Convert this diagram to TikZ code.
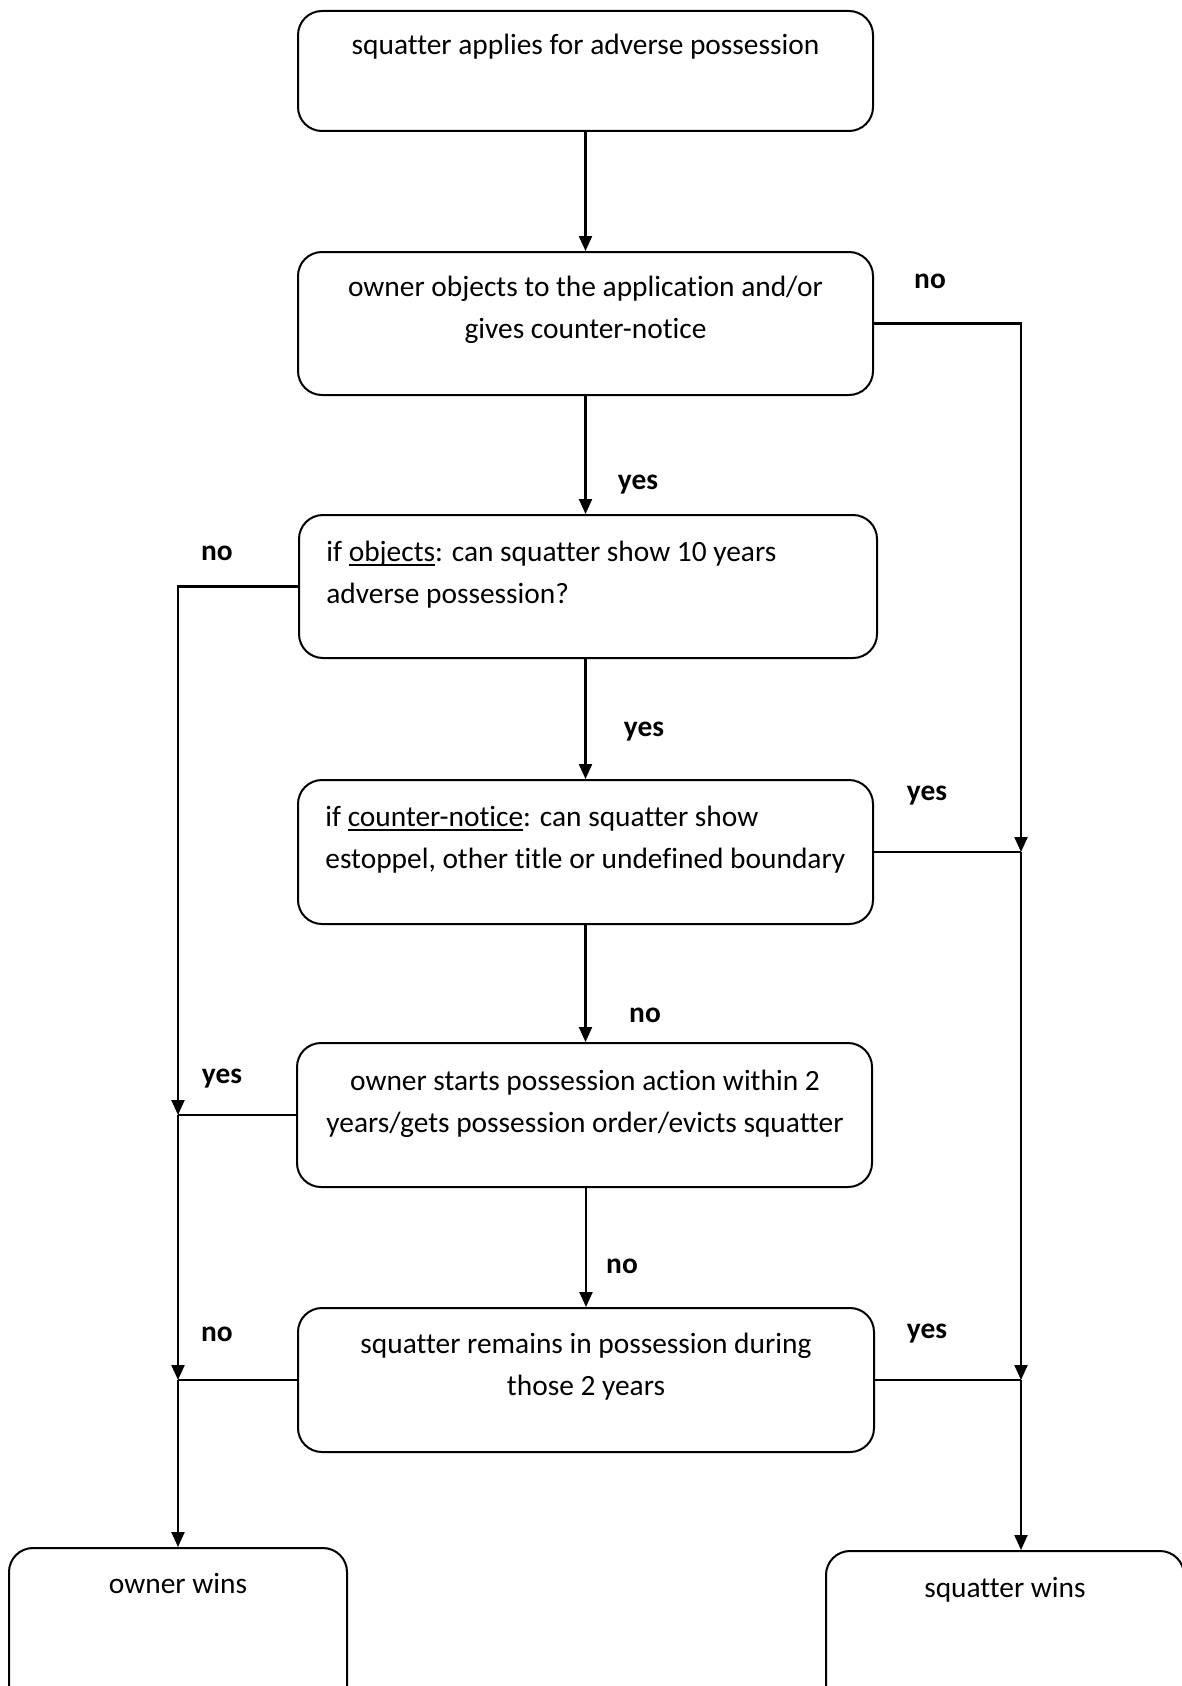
\documentclass[tikz,border=0pt]{standalone}
\usepackage{fontspec}
\setmainfont{Carlito}[Ligatures=NoCommon]
\usetikzlibrary{arrows.meta}
% underline at a fixed depth below the baseline
\newcommand\undl[1]{\setbox0\hbox{#1}\rlap{\rule[-2.3pt]{\wd0}{0.75pt}}\box0}
\begin{document}
\begin{tikzpicture}[x=0.5pt,y=-0.5pt,
  box/.style={draw, line width=1pt, rounded corners=12pt, inner sep=0pt},
  txt/.style={font=\fontsize{14.7}{21}\selectfont, inner sep=0pt, align=center, anchor=base},
  ltxt/.style={font=\fontsize{14.7}{21}\selectfont, inner sep=0pt, align=left, anchor=base west},
  lbl/.style={font=\fontsize{14.7}{21}\selectfont\bfseries, inner sep=0pt},
  conn/.style={line width=1.1pt},
  arr/.style={line width=1.1pt, -{Triangle[length=7.5pt,width=6.5pt]}}
]
\clip (0,0) rectangle (1182,1686);

% process boxes
\node[box, minimum width=287.5pt, minimum height=60pt]   (b1) at (585.5,71)   {};
\node[box, minimum width=287.5pt, minimum height=71.5pt] (b2) at (585.5,323.5) {};
\node[box, minimum width=289pt,   minimum height=71.5pt] (b3) at (588,586.5)  {};
\node[box, minimum width=287.5pt, minimum height=72pt]   (b4) at (585.5,852)  {};
\node[box, minimum width=287.5pt, minimum height=72pt]   (b5) at (584.5,1115) {};
\node[box, minimum width=288pt,   minimum height=72pt]   (b6) at (586,1380)   {};
\node[box, minimum width=169pt,   minimum height=90pt]   (b7) at (178,1638)   {};
\node[box, minimum width=179pt,   minimum height=90pt]   (b8) at (1005,1641)  {};

% box texts (base anchor sits on the last line)
\node[txt]  (t1) at (585.5,55)  {squatter applies for adverse possession};
\node[txt]  (t2) at (585.5,338) {owner objects to the application and/or\\gives counter-notice};
\node[ltxt] (t3) at (326,603)   {if \undl{objects}: can squatter show 10 years\\adverse possession?};
\node[ltxt] (t4) at (325,868)   {if \undl{counter-notice}: can squatter show\\estoppel, other title or undefined boundary};
\node[txt]  (t5) at (585,1132)  {owner starts possession action within 2\\years/gets possession order/evicts squatter};
\node[txt]  (t6) at (586,1395)  {squatter remains in possession during\\those 2 years};
\node[txt]  (t7) at (178,1593)  {owner wins};
\node[txt]  (t8) at (1005,1597) {squatter wins};

% branch labels
\node[lbl] (l1)  at (930,281)  {no};
\node[lbl] (l2)  at (638,485)  {yes};
\node[lbl] (l3)  at (217,553)  {no};
\node[lbl] (l4)  at (644,732)  {yes};
\node[lbl] (l5)  at (927,796)  {yes};
\node[lbl] (l6)  at (645,1015) {no};
\node[lbl] (l7)  at (222,1079) {yes};
\node[lbl] (l8)  at (622,1266) {no};
\node[lbl] (l9)  at (217,1334) {no};
\node[lbl] (l10) at (927,1334) {yes};

% side rails
\coordinate (rx) at (1021,0);
\coordinate (lx) at (178,0);
\coordinate (rj1) at (b4.east -| rx);
\coordinate (rj2) at (b6.east -| rx);
\coordinate (lj1) at (b5.west -| lx);
\coordinate (lj2) at (b6.west -| lx);

% main column
\draw[arr] (b1.south) -- (b2.north);
\draw[arr] (b2.south) -- (b3.north -| b2.south);
\draw[arr] (b3.south -| b2.south) -- (b4.north);
\draw[arr] (b4.south) -- (b5.north -| b4.south);
\draw[arr] (b5.south -| b6.north) -- (b6.north);

% right rail: squatter wins
\draw[arr] (b2.east) -| (rj1);
\draw[conn] (b4.east) -- (rj1);
\draw[arr] (rj1) -- (rj2);
\draw[conn] (b6.east) -- (rj2);
\draw[arr] (rj2) -- (rj2 |- b8.north);

% left rail: owner wins
\draw[arr] (b3.west) -| (lj1);
\draw[conn] (b5.west) -- (lj1);
\draw[arr] (lj1) -- (lj2);
\draw[conn] (b6.west) -- (lj2);
\draw[arr] (lj2) -- (b7.north);
\end{tikzpicture}
\end{document}
